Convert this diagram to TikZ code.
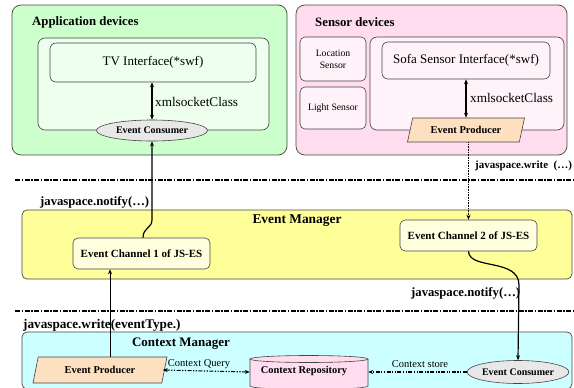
\documentclass[tikz,border=0pt]{standalone}
\usepackage{fontspec}
\setmainfont{Liberation Serif}
\usetikzlibrary{shapes.geometric,arrows.meta,calc}
\definecolor{appgreen}{HTML}{CCFFCC}
\definecolor{applight}{HTML}{EEFFEE}
\definecolor{senspink}{HTML}{FFDDEE}
\definecolor{senslight}{HTML}{FFF2F8}
\definecolor{emyellow}{HTML}{FFFF99}
\definecolor{chyellow}{HTML}{FFFFDD}
\definecolor{cmcyan}{HTML}{CCFFFF}
\definecolor{peach}{HTML}{FCE0C0}
\definecolor{consgray}{HTML}{E8E8E8}
\definecolor{repopink}{HTML}{FFDDEE}
\definecolor{edge}{HTML}{444444}
\tikzset{
  groupbox/.style={draw=edge, line width=0.7pt, rounded corners=9pt, inner sep=0pt},
  innerbox/.style={draw=edge, line width=0.6pt, rounded corners=7pt, inner sep=0pt},
  ifbox/.style={draw=edge, line width=0.6pt, rounded corners=6pt, inner sep=0pt, font=\fontsize{13}{15}\selectfont},
  smallbox/.style={draw=edge, line width=0.6pt, rounded corners=5pt, inner sep=0pt, align=center, font=\fontsize{9.7}{12}\selectfont},
  chbox/.style={draw=edge, line width=0.6pt, rounded corners=5pt, inner sep=0pt, fill=chyellow, font=\bfseries\fontsize{11}{13}\selectfont, minimum width=137pt, minimum height=31pt},
  consumer/.style={ellipse, draw=edge, line width=0.6pt, fill=consgray, inner sep=0pt, font=\bfseries\fontsize{10}{12}\selectfont},
  producer/.style={trapezium, trapezium left angle=55, trapezium right angle=125, trapezium stretches body, draw=edge, line width=0.6pt, fill=peach, inner sep=0pt, font=\bfseries\fontsize{10.5}{12}\selectfont},
  title/.style={font=\bfseries\fontsize{12.8}{15}\selectfont, inner sep=0pt},
  lbl/.style={font=\bfseries\fontsize{12.7}{15}\selectfont, inner sep=0pt},
  sock/.style={font=\fontsize{13.2}{15}\selectfont, inner sep=0pt},
  small/.style={font=\fontsize{10.5}{12}\selectfont, inner sep=0pt},
  tip/.style={-{Stealth[length=5pt,width=4pt]}},
  dtip/.style={{Stealth[length=5pt,width=4pt]}-{Stealth[length=5pt,width=4pt]}},
  sep/.style={line width=1.1pt, dash pattern=on 5pt off 1.5pt on 1.5pt off 1.5pt},
  ddot/.style={line width=1.1pt, dash pattern=on 4pt off 1.5pt on 1.2pt off 1.5pt on 1.2pt off 1.5pt},
}
\begin{document}
\begin{tikzpicture}[x=1pt,y=1pt]
\useasboundingbox (0,0) rectangle (574,-388);
\begin{scope}
\clip (0,0) rectangle (574,-388);
% Application devices
\node[groupbox, fill=appgreen, minimum width=275pt, minimum height=150pt] (app) at (149.5,-80) {};
\node[title, anchor=west] (apptitle) at (32,-22) {Application devices};
\node[innerbox, fill=applight, minimum width=231pt, minimum height=92pt] (appin) at (153.5,-84) {};
\node[ifbox, fill=applight, minimum width=206pt, minimum height=39pt] (tv) at (153,-62.5) {TV Interface(*swf)};
\node[consumer, minimum width=111pt, minimum height=21pt] (cons1) at (152,-130.5) {Event Consumer};
\draw[dtip, line width=1.2pt] (tv.south -| cons1.north) -- (cons1.north);
\node[sock, anchor=west] (sock1) at (155,-102) {xmlsocketClass};

% Sensor devices
\node[groupbox, fill=senspink, minimum width=271pt, minimum height=150pt] (sens) at (431.5,-80) {};
\node[title, anchor=west] (senstitle) at (315,-22) {Sensor devices};
\node[smallbox, fill=senslight, minimum width=66pt, minimum height=44pt] (loc) at (333,-59) {Location\\Sensor};
\node[smallbox, fill=senslight, minimum width=66pt, minimum height=42pt] (light) at (333,-108) {Light Sensor};
\node[innerbox, fill=senslight, minimum width=194pt, minimum height=93pt] (sensin) at (467,-83.5) {};
\node[ifbox, fill=senslight, minimum width=168pt, minimum height=37pt] (sofa) at (466,-60.5) {Sofa Sensor Interface(*swf)};
\node[producer, minimum width=117pt, minimum height=24pt] (prod1) at (466,-130) {Event Producer};
\draw[dtip, line width=1.2pt] (sofa.south -| prod1.north) -- (prod1.north);
\node[sock, anchor=west] (sock2) at (470,-98) {xmlsocketClass};

% separators
\coordinate (s1a) at (15,-180);
\coordinate (s1b) at (574,-180);
\coordinate (s2a) at (15,-311);
\coordinate (s2b) at (574,-311);
\draw[sep] (s1a) -- (s1b);
\draw[sep] (s2a) -- (s2b);

% Event Manager
\node[groupbox, rounded corners=5pt, fill=emyellow, minimum width=550pt, minimum height=69pt] (em) at (297,-244.5) {};
\node[title, font=\bfseries\fontsize{13.4}{15}\selectfont] (emtitle) at (297,-221) {Event Manager};
\node[chbox] (ec1) at (141.5,-253.5) {Event Channel 1 of JS-ES};
\node[chbox] (ec2) at (468.5,-235.5) {Event Channel 2 of JS-ES};

% Context Manager
\node[groupbox, rounded corners=5pt, fill=cmcyan, minimum width=550pt, minimum height=57pt] (cm) at (297,-360.5) {};
\node[title, font=\bfseries\fontsize{13}{15}\selectfont] (cmtitle) at (181,-344) {Context Manager};
\node[producer, minimum width=134pt, minimum height=26pt] (prod2) at (100,-370) {Event Producer};
\node[inner sep=0pt, minimum width=118pt, minimum height=28pt] (repo) at (309,-372) {};
\fill[repopink] (250,-359) -- (250,-386) arc[start angle=180, end angle=360, x radius=59, y radius=3.5] -- (368,-359) -- cycle;
\fill[repopink] (309,-359) ellipse[x radius=59, y radius=3.5];
\draw[edge, line width=0.6pt] (250,-359) -- (250,-386) arc[start angle=180, end angle=360, x radius=59, y radius=3.5] -- (368,-359);
\draw[edge, line width=0.6pt] (309,-359) ellipse[x radius=59, y radius=3.5];
\node[inner sep=0pt, font=\bfseries\fontsize{10.4}{12}\selectfont] (repotext) at (304,-371) {Context Repository};
\node[consumer, minimum width=98pt, minimum height=23pt] (cons2) at (518,-372) {Event Consumer};

% connectors
\coordinate (k1) at (152,-220);
\draw[tip, line width=1.2pt] ([xshift=1.5pt]ec1.north) .. controls +(0,10) and +(0,-8) .. (k1) -- (cons1.south);
\draw[tip, line width=1.2pt, dash pattern=on 1pt off 0.6pt] (prod1.south -| ec2.north) -- (ec2.north);
\coordinate (k2) at (519,-285);
\draw[tip, line width=1.2pt] (ec2.south) .. controls (469,-270) and (519,-258) .. (k2) -- (cons2.north);
\draw[tip, line width=0.8pt] ([xshift=10pt]prod2.north) -- ([xshift=10pt]prod2.north |- ec1.south);
\draw[dtip, ddot] ([xshift=-2pt]prod2.east) -- (repo.west);
\draw[tip, ddot] (cons2.west) -- (repo.east);
\node[small] (cq) at (199,-364) {Context Query};
\node[small] (cs) at (420,-364) {Context store};

% labels
\node[lbl, font=\bfseries\fontsize{11}{13}\selectfont, anchor=west] (l1) at (475,-166) {javaspace.write\ \ (…)};
\node[lbl, anchor=west] (l2) at (40,-202) {javaspace.notify(…)};
\node[lbl, anchor=west] (l3) at (411,-293) {javaspace.notify(…)};
\node[lbl, font=\bfseries\fontsize{13.2}{15}\selectfont, anchor=west] (l4) at (23,-325) {javaspace.write(eventType.)};
\end{scope}
\end{tikzpicture}
\end{document}
